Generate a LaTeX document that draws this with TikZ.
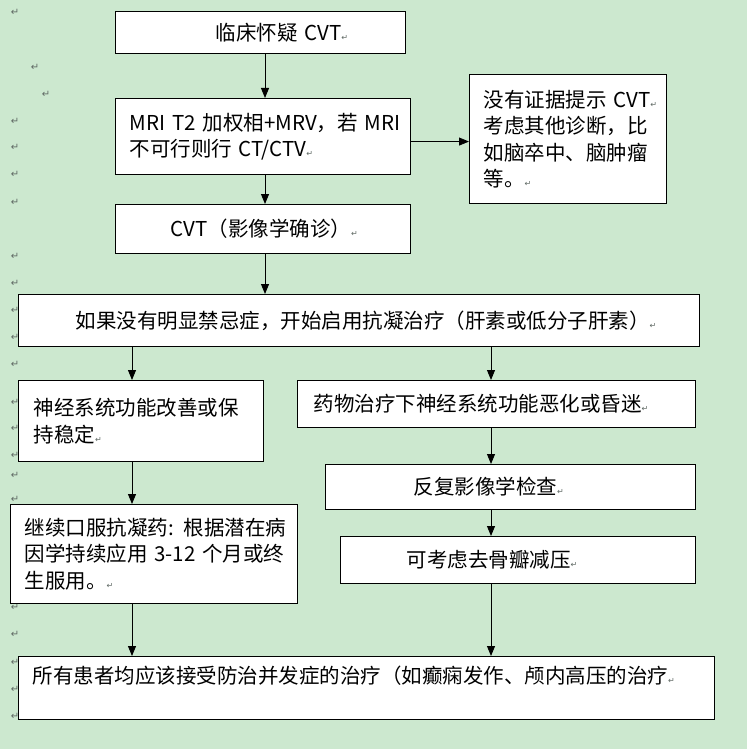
\documentclass[tikz,border=0pt]{standalone}
\usepackage{fontspec}
\setmainfont{Noto Sans CJK SC}
\newfontfamily\markfont{DejaVu Sans}
\usetikzlibrary{arrows.meta, positioning}
\definecolor{bggreen}{RGB}{204,232,207}
\definecolor{markgray}{RGB}{95,105,100}
\newcommand\parmark{{\markfont\fontsize{8}{8}\selectfont\textcolor{markgray}{↵}}}

\begin{document}
\begin{tikzpicture}[x=1pt, y=-1pt,
		box/.style={rectangle, draw=black, fill=white, line width=1.1pt, anchor=north west, align=left, inner xsep=0pt, font={\fontsize{20.5}{26.5}\selectfont}},
		lpad/.style={execute at begin node={\leftskip=#1pt\relax}},
		arrow/.style={-{Triangle[length=10pt, width=8pt]}, line width=0.9pt},
		retmk/.style={inner sep=0pt, text=markgray, font={\markfont\fontsize{10}{10}\selectfont}}
		]
		\fill[bggreen] (0,0) rectangle (747,749);
		
		\foreach \mx/\my [count=\i] in {15/12, 35/67, 46/94, 15/121, 15/147, 15/174, 15/202, 15/256, 15/283, 15/310, 15/337, 15/364, 15/402, 15/428, 15/455, 15/475, 15/499, 15/607, 15/634, 15/662, 15/689, 15/716}
			\node[retmk] (pm\i) at (\mx,\my) {↵};
		
		\node[box, lpad=100, text width=290pt, minimum height=42pt] (clin) at (115,11) {临床怀疑 CVT\parmark};
		\node[box, lpad=14, text width=295pt, minimum height=76pt] (mri) at (115,98) {MRI T2 加权相+MRV，若 MRI\\不可行则行 CT/CTV\parmark};
		\node[box, lpad=14, text width=197pt, minimum height=129pt] (other) at (469,74) {没有证据提示 CVT\parmark\\考虑其他诊断，比\\如脑卒中、脑肿瘤\\等。\parmark};
		\node[box, lpad=55, text width=295pt, minimum height=49pt] (conf) at (115,204) {CVT（影像学确诊）\parmark};
		\node[box, lpad=57, text width=681pt, minimum height=52pt] (anti) at (18,294) {如果没有明显禁忌症，开始启用抗凝治疗（肝素或低分子肝素）\parmark};
		\node[box, lpad=15, text width=245pt, minimum height=81pt] (stable) at (18,380) {神经系统功能改善或保\\持稳定\parmark};
		\node[box, lpad=16, text width=398pt, minimum height=47pt] (worse) at (297,380) {药物治疗下神经系统功能恶化或昏迷\parmark};
		\node[box, lpad=88, text width=370pt, minimum height=45pt] (reimg) at (325,464) {反复影像学检查\parmark};
		\node[box, lpad=66, text width=355pt, minimum height=47pt] (decomp) at (340,536) {可考虑去骨瓣减压\parmark};
		\node[box, lpad=14, text width=287pt, minimum height=99pt] (oral) at (10,504) {继续口服抗凝药: 根据潜在病\\因学持续应用 3-12 个月或终\\生服用。\parmark};
		\node[box, lpad=14, text width=696pt, minimum height=63pt] (all) at (18,656) {所有患者均应该接受防治并发症的治疗（如癫痫发作、颅内高压的治疗\parmark\\\mbox{}};
		
		\coordinate (ccol) at (265,0);
		\coordinate (lcol) at (132,0);
		\coordinate (rcol) at (491,0);
		
		\draw[arrow] (clin.south -| ccol) -- (mri.north -| ccol);
		\draw[arrow] (mri.south -| ccol) -- (conf.north -| ccol);
		\draw[arrow] ([yshift=-5pt]mri.east) -- ([yshift=-5pt]mri.east -| other.west);
		\draw[arrow] (conf.south -| ccol) -- (anti.north -| ccol);
		\draw[arrow] (anti.south -| lcol) -- (stable.north -| lcol);
		\draw[arrow] (anti.south -| rcol) -- (worse.north -| rcol);
		\draw[arrow] (stable.south -| lcol) -- (oral.north -| lcol);
		\draw[arrow] (worse.south -| rcol) -- (reimg.north -| rcol);
		\draw[arrow] (reimg.south -| rcol) -- (decomp.north -| rcol);
		\draw[arrow] (oral.south -| lcol) -- (all.north -| lcol);
		\draw[arrow] (decomp.south -| rcol) -- (all.north -| rcol);
		
	\end{tikzpicture}
\end{document}
